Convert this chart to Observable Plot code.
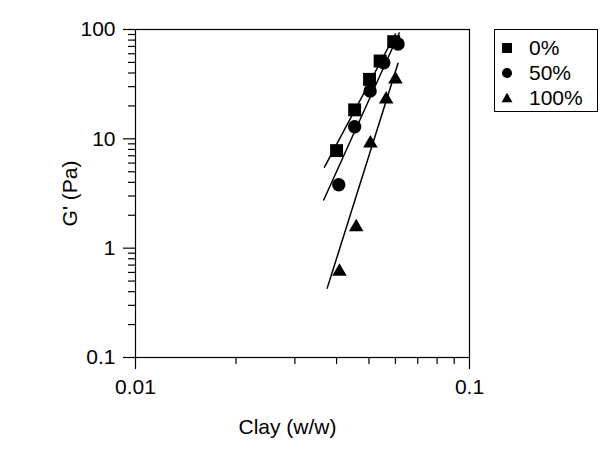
<!DOCTYPE html>
<html>
<head>
<meta charset="utf-8">
<script src="https://cdn.jsdelivr.net/npm/d3@7"></script>
<script src="https://cdn.jsdelivr.net/npm/@observablehq/plot@0.6"></script>
<style>
  html, body { margin: 0; padding: 0; background: white; }
  #chart { width: 600px; height: 457px; }
</style>
</head>
<body>
<div id="chart"></div>
<script>
// ---- data ----
const seriesNames = ["0%", "50%", "100%"];

const clay0 = [0.0400, 0.0453, 0.0502, 0.0540, 0.0593];
const g0    = [7.8, 18.4, 35, 51.5, 77.4];

const clay50 = [0.0406, 0.0453, 0.0504, 0.0554, 0.0611];
const g50    = [3.8, 12.9, 27.4, 49.7, 73.7];

const clay100 = [0.0408, 0.0458, 0.0505, 0.0563, 0.0600];
const g100    = [0.61, 1.56, 9.1, 23, 35];

// fitted power-law lines (end points)
const fitClay0 = [0.0368, 0.0600];
const fitG0    = [5.5, 91];
const fitClay50 = [0.0366, 0.0616];
const fitG50    = [2.76, 92.9];
const fitClay100 = [0.0375, 0.0611];
const fitG100    = [0.431, 49.1];

const xMajor = [0.01, 0.1];
const xMinor = [0.02, 0.03, 0.04, 0.05, 0.06, 0.07, 0.08, 0.09];
const yMajor = [0.1, 1, 10, 100];
const yMinor = [0.2, 0.3, 0.4, 0.5, 0.6, 0.7, 0.8, 0.9,
                2, 3, 4, 5, 6, 7, 8, 9,
                20, 30, 40, 50, 60, 70, 80, 90];

const xLabel = "Clay (w/w)";
const yLabel = "G' (Pa)";

// ---- tables ----
const toRows = (xs, ys) => xs.map((x, i) => ({x, y: ys[i]}));
const pts0 = toRows(clay0, g0);
const pts50 = toRows(clay50, g50);
const pts100 = toRows(clay100, g100);
const fit0 = toRows(fitClay0, fitG0);
const fit50 = toRows(fitClay50, fitG50);
const fit100 = toRows(fitClay100, fitG100);

const symbols = [d3.symbolSquare, d3.symbolCircle, d3.symbolTriangle];
const font = "'Liberation Sans', Arial, Helvetica, sans-serif";

const plot = Plot.plot({
  width: 600,
  height: 457,
  marginLeft: 135,
  marginRight: 131,
  marginTop: 29,
  marginBottom: 100,
  style: {fontFamily: font, fontSize: "21px", color: "black", background: "white"},
  x: {type: "log", domain: [0.01, 0.1], label: null},
  y: {type: "log", domain: [0.1, 100], label: null},
  marks: [
    Plot.frame({stroke: "black", strokeWidth: 1.2}),
    Plot.axisX({ticks: xMajor, tickSize: 12, tickPadding: 10, tickFormat: d => String(d), label: null, strokeWidth: 1.2}),
    Plot.axisX({ticks: xMinor, tickSize: 7, tickFormat: () => "", label: null, strokeWidth: 1.2}),
    Plot.axisY({ticks: yMajor, tickSize: 12, tickPadding: 8, tickFormat: d => String(d), label: null, strokeWidth: 1.2}),
    Plot.axisY({ticks: yMinor, tickSize: 7, tickFormat: () => "", label: null, strokeWidth: 1.2}),
    Plot.line(fit0, {x: "x", y: "y", stroke: "black", strokeWidth: 1.5}),
    Plot.line(fit50, {x: "x", y: "y", stroke: "black", strokeWidth: 1.5}),
    Plot.line(fit100, {x: "x", y: "y", stroke: "black", strokeWidth: 1.5}),
    Plot.dot(pts0, {x: "x", y: "y", symbol: symbols[0], r: 7.3, fill: "black", stroke: "none"}),
    Plot.dot(pts50, {x: "x", y: "y", symbol: symbols[1], r: 6.7, fill: "black", stroke: "none"}),
    Plot.dot(pts100, {x: "x", y: "y", symbol: symbols[2], r: 5.4, fill: "black", stroke: "none"}),
    Plot.text([xLabel], {text: d => d, frameAnchor: "bottom", dx: -15, dy: 70, textAnchor: "middle", lineAnchor: "middle", fontSize: 21, fill: "black"}),
    Plot.text([yLabel], {text: d => d, frameAnchor: "left", rotate: -90, dx: -65, textAnchor: "middle", lineAnchor: "middle", fontSize: 21, fill: "black"})
  ]
});

// ---- legend (drawn into the same svg) ----
const svg = d3.select(plot);
const lg = svg.append("g").attr("font-family", font).attr("font-size", 21).attr("text-anchor", "start");
lg.append("rect")
  .attr("x", 494.5).attr("y", 29.5).attr("width", 103).attr("height", 82)
  .attr("fill", "white").attr("stroke", "black").attr("stroke-width", 1);
const legendSizes = [100, 80, 52];
seriesNames.forEach((name, i) => {
  const cy = 48 + i * 25;
  lg.append("path")
    .attr("d", d3.symbol(symbols[i], legendSizes[i])())
    .attr("transform", `translate(507,${cy + (i === 2 ? 1 : 0)})`)
    .attr("fill", "black");
  lg.append("text")
    .attr("x", 529).attr("y", cy).attr("dy", "0.35em")
    .attr("text-anchor", "start")
    .attr("fill", "black")
    .text(name);
});

document.getElementById("chart").appendChild(plot);
</script>
</body>
</html>
